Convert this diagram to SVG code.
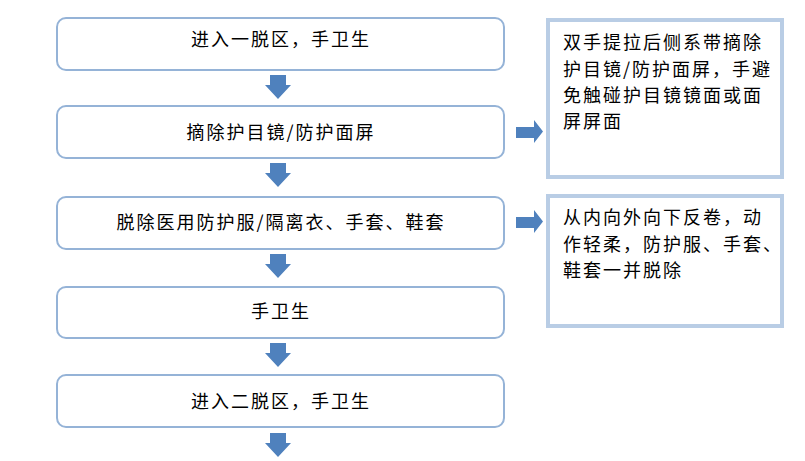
<svg xmlns="http://www.w3.org/2000/svg" width="805" height="461" viewBox="0 0 805 461">
<defs>
<style>
.box{fill:#fff;stroke:#95B3D7;stroke-width:2}
.note{fill:#fff;stroke:#B9CDE5;stroke-width:4}
.arr{fill:#4F81BD}
text{font-family:"Noto Sans CJK SC","Liberation Sans",sans-serif;font-size:18px;fill:#000;letter-spacing:2px}
.c{text-anchor:middle}
</style>
</defs>
<rect width="805" height="461" fill="#fff"/>
<g id="n1"><rect class="box" x="57" y="18" width="447" height="52" rx="9"/><text class="c" x="281" y="46">进入一脱区，手卫生</text></g>
<g id="n2"><rect class="box" x="57" y="106" width="447" height="52" rx="9"/><text class="c" x="281" y="139">摘除护目镜/防护面屏</text></g>
<g id="n3"><rect class="box" x="57" y="197" width="447" height="52" rx="9"/><text class="c" x="281" y="229">脱除医用防护服/隔离衣、手套、鞋套</text></g>
<g id="n4"><rect class="box" x="57" y="287" width="447" height="51" rx="9"/><text class="c" x="281" y="318">手卫生</text></g>
<g id="n5"><rect class="box" x="57" y="375" width="447" height="52" rx="9"/><text class="c" x="281" y="408">进入二脱区，手卫生</text></g>
<g id="note1"><rect class="note" x="548" y="20" width="234" height="157"/>
<text x="563" y="49">双手提拉后侧系带摘除</text>
<text x="563" y="76">护目镜/防护面屏，手避</text>
<text x="563" y="102">免触碰护目镜镜面或面</text>
<text x="563" y="128">屏屏面</text></g>
<g id="note2"><rect class="note" x="548" y="196" width="234" height="130"/>
<text x="563" y="224">从内向外向下反卷，动</text>
<text x="563" y="251">作轻柔，防护服、手套、</text>
<text x="563" y="277">鞋套一并脱除</text></g>
<g id="connectors">
<polygon class="arr" points="270,75 286,75 286,85 291,85 278,99 265,85 270,85"/>
<polygon class="arr" points="270,163 286,163 286,173 291,173 278,187 265,173 270,173"/>
<polygon class="arr" points="270,254 286,254 286,264 291,264 278,278 265,264 270,264"/>
<polygon class="arr" points="270,343 286,343 286,353 291,353 278,367 265,353 270,353"/>
<polygon class="arr" points="270,433 286,433 286,443 291,443 278,457 265,443 270,443"/>
<polygon class="arr" points="516,127 534,127 534,120 543,131.5 534,143 534,138 516,138"/>
<polygon class="arr" points="516,217 534,217 534,210 543,221.5 534,233 534,228 516,228"/>
</g>
</svg>
